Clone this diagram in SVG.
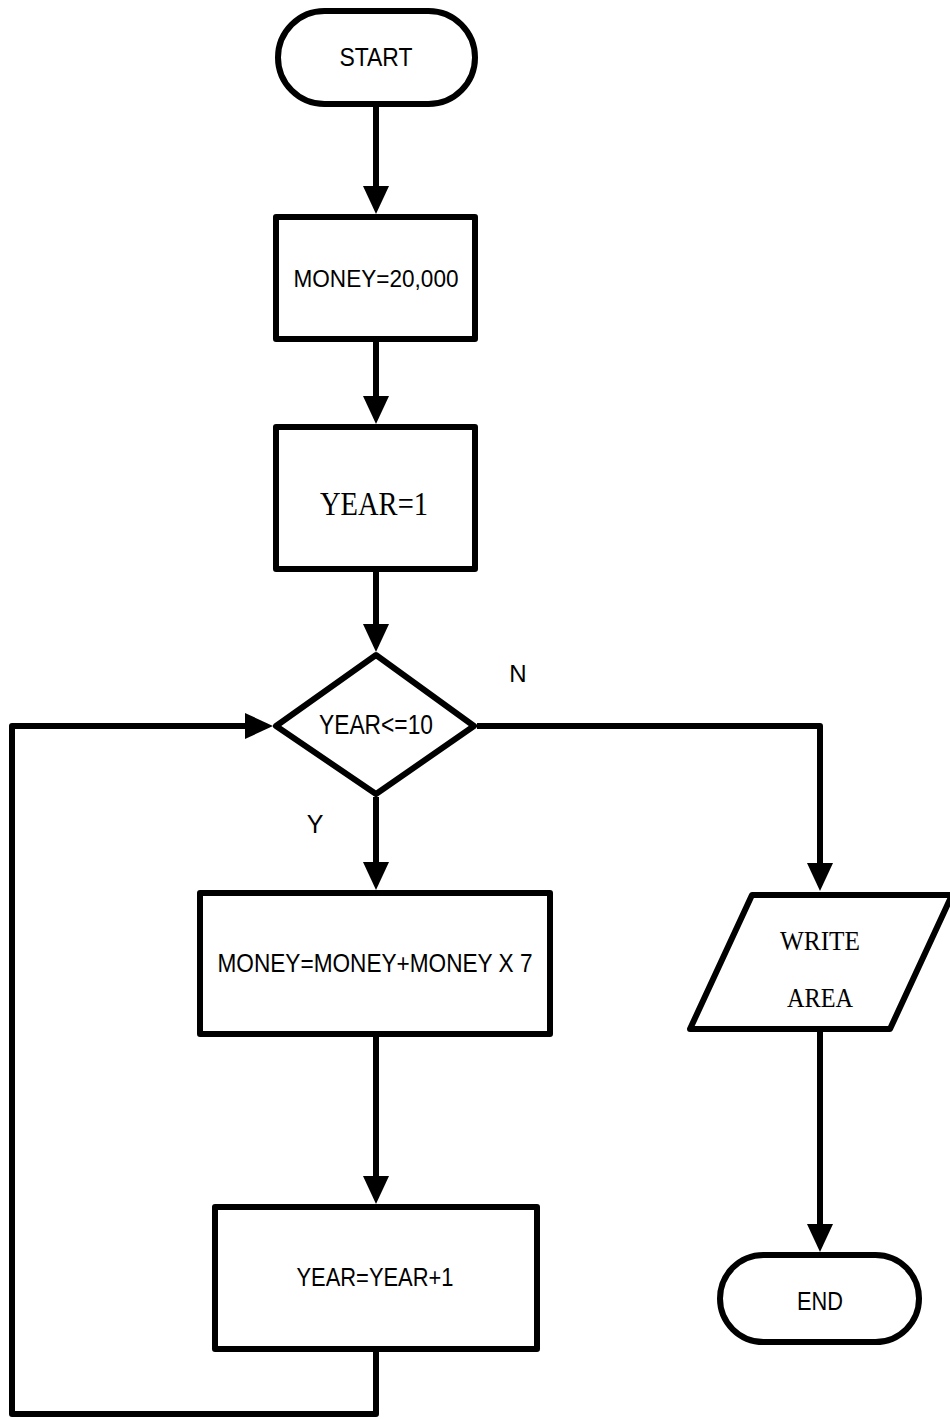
<svg xmlns="http://www.w3.org/2000/svg" width="950" height="1419" viewBox="0 0 950 1419">
  <style>
    .shape { fill: #ffffff; stroke: #000000; stroke-width: 6; stroke-linejoin: round; }
    .wire { fill: none; stroke: #000000; stroke-width: 6; stroke-linejoin: round; marker-end: url(#arrow); }
    .plain { fill: none; stroke: #000000; stroke-width: 6; }
    .sans { font-family: "Liberation Sans", Arial, sans-serif; fill: #000000; text-anchor: middle; }
    .serif { font-family: "Liberation Serif", "Times New Roman", serif; fill: #000000; text-anchor: middle; }
  </style>
  <defs>
    <marker id="arrow" markerUnits="userSpaceOnUse" markerWidth="28" markerHeight="28" refX="8" refY="13" orient="auto" overflow="visible">
      <path d="M0,0 L28,13 L0,26 Z" fill="#000000"/>
    </marker>
  </defs>
  <rect width="950" height="1419" fill="#ffffff"/>

  <!-- connectors -->
  <g id="connectors">
    <path class="wire" d="M376,107 V194"/>
    <path class="wire" d="M376,342 V404"/>
    <path class="wire" d="M376,572 V632"/>
    <path class="wire" d="M376,797 V870"/>
    <path class="wire" d="M376,1037 V1184"/>
    <path class="wire" d="M376,1352 V1414 H12 V726 H253"/>
    <path class="wire" d="M477,726 H820 V871"/>
    <path class="wire" d="M820,1030 V1232"/>
  </g>

  <g id="start">
    <rect class="shape" x="278" y="11" width="197" height="93" rx="46.5" ry="46.5"/>
    <text class="sans" x="376" y="66" font-size="26" textLength="73" lengthAdjust="spacingAndGlyphs">START</text>
  </g>

  <g id="init-money">
    <rect class="shape" x="276" y="217" width="199" height="122"/>
    <text class="sans" x="376" y="287" font-size="24" textLength="165" lengthAdjust="spacingAndGlyphs">MONEY=20,000</text>
  </g>

  <g id="init-year">
    <rect class="shape" x="276" y="427" width="199" height="142"/>
    <text class="serif" x="374" y="515" font-size="34" textLength="108" lengthAdjust="spacingAndGlyphs">YEAR=1</text>
  </g>

  <g id="decision">
    <polygon class="shape" points="376,655 474,726 376,794 276,726" stroke-linejoin="miter"/>
    <text class="sans" x="376" y="734" font-size="27" textLength="114" lengthAdjust="spacingAndGlyphs">YEAR&lt;=10</text>
  </g>

  <g id="label-n">
    <text class="sans" x="518" y="682" font-size="24">N</text>
  </g>
  <g id="label-y">
    <text class="sans" x="315" y="833" font-size="25">Y</text>
  </g>

  <g id="update-money">
    <rect class="shape" x="200" y="893" width="350" height="141"/>
    <text class="sans" x="375" y="972" font-size="25" textLength="315" lengthAdjust="spacingAndGlyphs">MONEY=MONEY+MONEY X 7</text>
  </g>

  <g id="update-year">
    <rect class="shape" x="215" y="1207" width="322" height="142"/>
    <text class="sans" x="375" y="1286" font-size="25" textLength="157" lengthAdjust="spacingAndGlyphs">YEAR=YEAR+1</text>
  </g>

  <g id="write-area">
    <polygon class="shape" points="752,895 952,895 890,1029 690,1029" stroke-linejoin="miter"/>
    <text class="serif" x="820" y="950" font-size="28" textLength="80" lengthAdjust="spacingAndGlyphs">WRITE</text>
    <text class="serif" x="820" y="1007" font-size="28" textLength="66" lengthAdjust="spacingAndGlyphs">AREA</text>
  </g>

  <g id="end">
    <rect class="shape" x="720" y="1255" width="199" height="87" rx="43.5" ry="43.5"/>
    <text class="sans" x="820" y="1310" font-size="25" textLength="46" lengthAdjust="spacingAndGlyphs">END</text>
  </g>
</svg>
